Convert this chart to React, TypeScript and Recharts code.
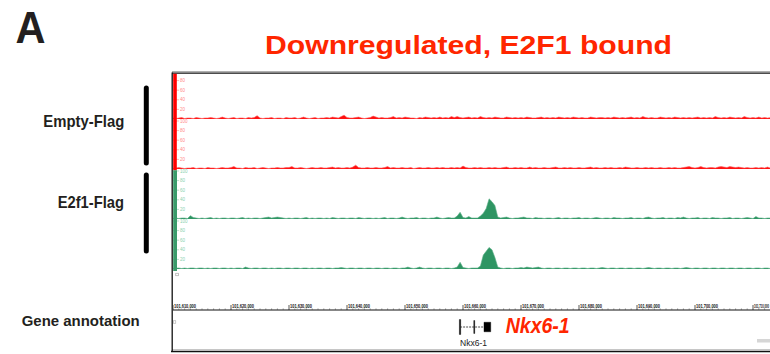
import React from 'react';
import { AreaChart, Area, XAxis, YAxis, ComposedChart, ReferenceArea, ReferenceLine } from 'recharts';

// ---- genomic bins (kb) ----
const START_KB = 101610;
const BIN_KB = 0.5;
const DOMAIN: [number, number] = [101610, 101720];

// ---- ChIP signal per 0.5 kb bin (0-100 scale) ----
const emptyFlag1 = [
  2, 1, 2, 3, 1, 2, 2, 1, 3, 2,
  1, 2, 2, 3, 2, 1, 2, 4, 2, 1,
  2, 3, 1, 2, 2, 1, 3, 2, 3, 7,
  2, 1, 2, 2, 3, 1, 2, 2, 1, 3,
  2, 2, 3, 1, 2, 4, 2, 1, 2, 3,
  1, 2, 2, 3, 2, 4, 3, 2, 5, 8,
  3, 2, 2, 3, 4, 2, 1, 2, 3, 6,
  4, 2, 3, 2, 2, 3, 5, 2, 3, 2,
  4, 3, 2, 2, 1, 3, 2, 4, 3, 2,
  3, 2, 4, 2, 3, 2, 5, 3, 5, 3,
  2, 3, 4, 2, 3, 2, 5, 3, 2, 3,
  2, 4, 3, 2, 2, 4, 3, 2, 3, 2,
  3, 2, 4, 3, 2, 2, 3, 4, 2, 3,
  2, 3, 2, 4, 3, 2, 3, 2, 4, 3,
  2, 3, 2, 2, 4, 3, 2, 3, 3, 2,
  3, 2, 4, 3, 2, 3, 2, 3, 4, 2,
  3, 2, 5, 3, 2, 3, 2, 2, 4, 3,
  2, 3, 2, 4, 3, 2, 3, 2, 3, 2,
  3, 4, 2, 3, 2, 3, 2, 5, 3, 2,
  3, 2, 4, 3, 2, 3, 2, 5, 3, 2,
  3, 2, 4, 2, 3, 2, 3,
];

const emptyFlag2 = [
  1, 2, 3, 2, 1, 2, 2, 3, 1, 2,
  2, 1, 3, 2, 2, 1, 2, 3, 2, 2,
  3, 5, 2, 2, 1, 3, 2, 2, 3, 1,
  2, 3, 2, 1, 2, 2, 3, 2, 2, 3,
  3, 5, 2, 2, 3, 2, 1, 2, 3, 2,
  2, 3, 2, 2, 3, 4, 2, 3, 2, 2,
  3, 2, 4, 8, 3, 2, 2, 3, 2, 2,
  3, 2, 2, 3, 5, 2, 3, 2, 2, 3,
  2, 2, 3, 1, 2, 3, 2, 2, 3, 2,
  2, 3, 2, 3, 2, 2, 3, 2, 3, 2,
  6, 3, 2, 2, 3, 2, 3, 2, 2, 3,
  2, 3, 2, 2, 3, 4, 2, 2, 3, 2,
  3, 2, 2, 4, 2, 3, 2, 2, 3, 2,
  2, 3, 4, 2, 2, 3, 2, 3, 2, 2,
  3, 2, 2, 3, 4, 2, 3, 2, 2, 3,
  2, 3, 2, 2, 3, 2, 4, 3, 2, 2,
  3, 2, 2, 3, 2, 3, 2, 2, 3, 2,
  2, 3, 2, 3, 2, 2, 3, 4, 5, 3,
  2, 3, 5, 3, 2, 3, 3, 2, 4, 5,
  4, 3, 5, 4, 3, 4, 3, 2, 3, 2,
  2, 3, 2, 3, 2, 4, 2,
];

const e2f1Flag1 = [
  1, 2, 1, 2, 2, 1, 7, 3, 2, 1,
  2, 1, 2, 3, 1, 2, 1, 2, 2, 1,
  2, 2, 1, 2, 3, 1, 2, 1, 2, 2,
  1, 2, 3, 4, 2, 3, 4, 3, 2, 1,
  2, 1, 2, 2, 1, 2, 3, 1, 2, 1,
  2, 2, 1, 2, 1, 3, 2, 1, 2, 2,
  1, 2, 2, 1, 3, 2, 1, 2, 2, 1,
  2, 1, 2, 3, 1, 2, 2, 1, 2, 4,
  2, 1, 2, 2, 3, 1, 2, 2, 1, 2,
  2, 4, 2, 1, 2, 3, 2, 2, 6, 14,
  3, 2, 5, 2, 2, 2, 6, 12, 22, 42,
  36, 28, 4, 2, 3, 4, 2, 1, 2, 2,
  3, 4, 2, 2, 1, 3, 2, 2, 1, 2,
  2, 1, 2, 3, 1, 2, 2, 1, 2, 2,
  3, 1, 2, 2, 1, 2, 3, 2, 1, 2,
  2, 1, 3, 2, 2, 1, 2, 2, 3, 1,
  2, 2, 1, 3, 4, 2, 1, 2, 2, 3,
  1, 2, 2, 1, 3, 2, 4, 2, 1, 2,
  2, 3, 1, 2, 2, 1, 3, 2, 2, 1,
  2, 2, 3, 1, 2, 2, 1, 2, 3, 2,
  1, 5, 2, 2, 1, 2, 2,
];

const e2f1Flag2 = [
  1, 2, 2, 1, 2, 1, 2, 2, 1, 2,
  2, 1, 2, 1, 2, 2, 1, 2, 2, 1,
  2, 1, 2, 2, 1, 4, 2, 1, 2, 2,
  1, 2, 2, 1, 2, 1, 2, 2, 1, 2,
  2, 1, 2, 2, 1, 2, 2, 1, 2, 1,
  2, 2, 1, 2, 2, 1, 2, 2, 3, 2,
  1, 2, 2, 1, 2, 2, 1, 2, 2, 1,
  2, 2, 1, 2, 2, 1, 2, 2, 1, 2,
  2, 4, 2, 1, 2, 4, 2, 1, 2, 2,
  1, 2, 2, 1, 2, 2, 1, 2, 4, 14,
  3, 2, 1, 2, 2, 2, 6, 29, 37, 45,
  40, 24, 4, 2, 1, 2, 2, 1, 2, 2,
  3, 2, 4, 3, 2, 3, 4, 2, 1, 2,
  2, 1, 2, 2, 1, 2, 2, 1, 2, 2,
  1, 2, 2, 1, 2, 2, 1, 2, 3, 2,
  1, 2, 2, 1, 2, 2, 1, 2, 2, 1,
  2, 2, 1, 2, 3, 2, 1, 2, 2, 1,
  2, 2, 1, 2, 2, 1, 2, 3, 2, 1,
  2, 2, 1, 2, 2, 1, 2, 2, 1, 2,
  2, 1, 2, 2, 1, 2, 2, 1, 2, 2,
  1, 2, 2, 1, 2, 2, 1,
];

// ---- axes ----
const yTicksTop = [20, 40, 60, 80];
const yTicks = [20, 40, 60, 80, 100];
const rulerMajorTicks = [101610, 101620, 101630, 101640, 101650, 101660, 101670, 101680, 101690, 101700, 101710];

// ---- gene model (kb) ----
const geneName = 'Nkx6-1';
const geneIntron = [101659.5, 101663.62];
const geneExonStarts = [101659.38, 101661.86, 101663.62];
const geneExonEnds = [101659.6, 101662.02, 101664.78];
const geneExonHalf = [0.44, 0.38, 0.28];

const FONT = '"Liberation Sans", Arial, Helvetica, sans-serif';
const CHART_LEFT = 173;
const CHART_W = 638;
const TRACK_H = 53;
const VIEW_W = 770;

const toRows = (vals: number[]) => vals.map((v, i) => ({ pos: START_KB + i * BIN_KB, v }));

type TrackProps = {
  values: number[];
  top: number;
  fill: string;
  stroke: string;
  tickColor: string;
  ticks: number[];
};

function Track({ values, top, fill, stroke, tickColor, ticks }: TrackProps) {
  return (
    <div style={{ position: 'absolute', left: CHART_LEFT, top, width: CHART_W, height: TRACK_H }}>
      <AreaChart width={CHART_W} height={TRACK_H} data={toRows(values)} margin={{ top: 4, right: 0, bottom: 1, left: 0 }}>
        <XAxis dataKey="pos" type="number" domain={DOMAIN} hide allowDataOverflow />
        <YAxis
          type="number"
          domain={[0, 100]}
          ticks={ticks}
          interval={0}
          mirror
          axisLine={false}
          tickLine={{ stroke: tickColor, strokeWidth: 0.6 }}
          tickSize={6}
          tickMargin={1}
          tick={{ fontSize: 4.5, fill: tickColor, fontFamily: FONT }}
          width={20}
          allowDataOverflow
        />
        <Area
          type="linear"
          dataKey="v"
          stroke={stroke}
          strokeWidth={0.6}
          fill={fill}
          fillOpacity={1}
          dot={false}
          activeDot={false}
          isAnimationActive={false}
        />
      </AreaChart>
    </div>
  );
}

const fmtPos = (kb: number) => Math.round(kb * 1000).toLocaleString('en-US');

const rulerTicks = rulerMajorTicks
  .flatMap((t) => [0, 1, 2, 3, 4, 5, 6, 7, 8, 9].map((k) => t + k))
  .filter((t) => t <= DOMAIN[1]);

const RulerTick = (props: any) => {
  const { x, y, payload } = props;
  const v = payload.value;
  if (!rulerMajorTicks.includes(v)) {
    return <line x1={x} x2={x} y1={y} y2={y - 1.6} stroke="#444" strokeWidth={0.5} />;
  }
  // room left before the right edge of the view (chart starts at CHART_LEFT)
  const room = VIEW_W - (CHART_LEFT + x) - 2;
  const len = Math.min(22, room);
  return (
    <g>
      <line x1={x} x2={x} y1={y} y2={y - 5} stroke="#111" strokeWidth={0.7} />
      <text
        x={x + 1}
        y={y - 2.4}
        fontSize={5}
        fontWeight="bold"
        fill="#111"
        fontFamily={FONT}
        textLength={len}
        lengthAdjust="spacingAndGlyphs"
      >
        {fmtPos(v)}
      </text>
    </g>
  );
};

function GeneTrack() {
  return (
    <div style={{ position: 'absolute', left: CHART_LEFT, top: 293, width: CHART_W, height: 57 }}>
      <ComposedChart
        width={CHART_W}
        height={57}
        data={[{ pos: DOMAIN[0] }, { pos: DOMAIN[1] }]}
        margin={{ top: 0, right: 0, bottom: 6, left: 0 }}
      >
        <XAxis
          dataKey="pos"
          type="number"
          domain={DOMAIN}
          orientation="top"
          height={17}
          ticks={rulerTicks}
          interval={0}
          tickSize={0}
          tickMargin={0}
          tickLine={false}
          axisLine={{ stroke: '#111', strokeWidth: 1 }}
          tick={<RulerTick />}
          allowDataOverflow
        />
        <YAxis type="number" domain={[-1, 1]} hide allowDataOverflow />
        <ReferenceLine
          segment={[
            { x: geneIntron[0], y: 0 },
            { x: geneIntron[1], y: 0 },
          ]}
          stroke="#222"
          strokeWidth={0.8}
          strokeDasharray="2 1"
        />
        {geneExonStarts.map((s, i) => (
          <ReferenceArea
            key={i}
            x1={s}
            x2={geneExonEnds[i]}
            y1={-geneExonHalf[i]}
            y2={geneExonHalf[i]}
            fill="#000"
            fillOpacity={1}
            stroke="#000"
            strokeWidth={0.4}
          />
        ))}
      </ComposedChart>
    </div>
  );
}

function Overlay() {
  return (
    <svg
      width={770}
      height={354}
      style={{ position: 'absolute', left: 0, top: 0, pointerEvents: 'none' }}
      fontFamily={FONT}
    >
      {/* panel letter and title */}
      <text x={15.5} y={43.3} fontSize={44} fontWeight="bold" fill="#231f20" textLength={30} lengthAdjust="spacingAndGlyphs">
        A
      </text>
      <text x={265} y={54} fontSize={25} fontWeight="bold" fill="#ff2600" textLength={407} lengthAdjust="spacingAndGlyphs">
        Downregulated, E2F1 bound
      </text>

      {/* track labels */}
      <text x={43.3} y={126.7} fontSize={17} fontWeight="bold" fill="#231f20" textLength={81} lengthAdjust="spacingAndGlyphs">
        Empty-Flag
      </text>
      <text x={57.7} y={208.3} fontSize={16.5} fontWeight="bold" fill="#231f20" textLength={66.3} lengthAdjust="spacingAndGlyphs">
        E2f1-Flag
      </text>
      <text x={21.7} y={326} fontSize={15.2} fontWeight="bold" fill="#231f20" textLength={118} lengthAdjust="spacingAndGlyphs">
        Gene annotation
      </text>

      {/* replicate brackets */}
      <line x1={146.3} x2={146.3} y1={88} y2={163} stroke="#000" strokeWidth={5} strokeLinecap="round" />
      <line x1={146.3} x2={146.3} y1={175} y2={251} stroke="#000" strokeWidth={5} strokeLinecap="round" />

      {/* browser frame */}
      <line x1={172} x2={772} y1={71.5} y2={71.5} stroke="#9a9a9a" strokeWidth={0.8} />
      <line x1={172} x2={772} y1={73.2} y2={73.2} stroke="#111" strokeWidth={1.3} />
      <line x1={172} x2={772} y1={349.6} y2={349.6} stroke="#b0b0b0" strokeWidth={0.8} />
      <line x1={171} x2={772} y1={351.5} y2={351.5} stroke="#111" strokeWidth={1.4} />
      <line x1={172.2} x2={172.2} y1={72.5} y2={352} stroke="#111" strokeWidth={1.3} />

      {/* track colour bars */}
      <rect x={173.2} y={73.8} width={3.6} height={96.5} fill="#ff0000" />
      <rect x={173.2} y={170.3} width={3.8} height={100.7} fill="#3a9a6a" />

      {/* small track glyphs */}
      <rect x={175.8} y={273.2} width={2.6} height={2.6} fill="none" stroke="#888" strokeWidth={0.5} />
      <rect x={173.4} y={320.8} width={2.4} height={2.4} fill="none" stroke="#999" strokeWidth={0.5} />
      <rect x={757} y={339} width={13} height={3.5} fill="#d6d6d6" />

      {/* gene labels */}
      <text x={460} y={346} fontSize={9} fill="#222" textLength={27} lengthAdjust="spacingAndGlyphs">
        {geneName}
      </text>
      <text
        x={505.7}
        y={333.3}
        fontSize={22.5}
        fontWeight="bold"
        fontStyle="italic"
        fill="#ff2600"
        textLength={64}
        lengthAdjust="spacingAndGlyphs"
      >
        {geneName}
      </text>
    </svg>
  );
}

export default function App() {
  return (
    <div
      style={{
        position: 'absolute',
        left: 0,
        top: 0,
        width: 770,
        height: 354,
        overflow: 'hidden',
        background: '#ffffff',
        fontFamily: FONT,
      }}
    >
      <Track values={emptyFlag1} top={67} fill="#ff1010" stroke="#ff5a5a" tickColor="#ff8a8a" ticks={yTicksTop} />
      <Track values={emptyFlag2} top={117} fill="#ff1010" stroke="#ff5a5a" tickColor="#ff8a8a" ticks={yTicks} />
      <Track values={e2f1Flag1} top={167} fill="#2e9563" stroke="#5aae86" tickColor="#8ccfae" ticks={yTicks} />
      <Track values={e2f1Flag2} top={217} fill="#2e9563" stroke="#5aae86" tickColor="#8ccfae" ticks={yTicks} />
      <GeneTrack />
      <Overlay />
    </div>
  );
}
